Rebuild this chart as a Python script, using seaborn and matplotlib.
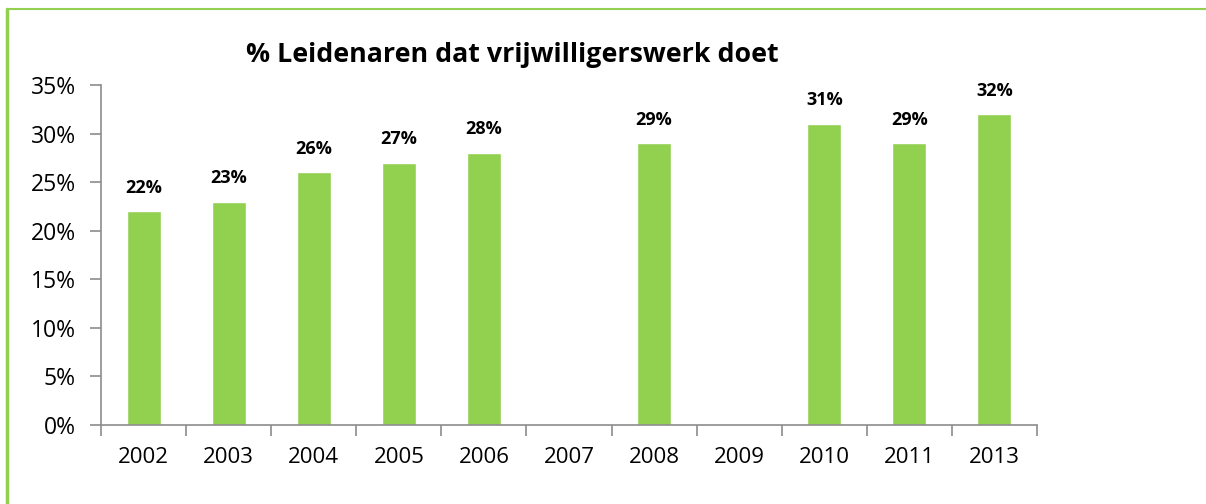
import matplotlib.pyplot as plt
import seaborn as sns
import numpy as np
import pandas as pd

# data
years = ['2002', '2003', '2004', '2005', '2006', '2007', '2008', '2009', '2010', '2011', '2013']
pct = [22, 23, 26, 27, 28, np.nan, 29, np.nan, 31, 29, 32]

green = '#92D050'
grey = '#8c8c8c'

sns.set_style('white')
plt.rcParams['font.family'] = ['Open Sans', 'DejaVu Sans']
plt.rcParams['text.color'] = 'black'
plt.rcParams['xtick.color'] = grey
plt.rcParams['ytick.color'] = grey
plt.rcParams['xtick.labelcolor'] = 'black'
plt.rcParams['ytick.labelcolor'] = 'black'

df = pd.DataFrame({'jaar': years, 'pct': pct})

fig = plt.figure(figsize=(12.06, 5.04), dpi=100)
ax = fig.add_axes([101 / 1206, 1 - 425 / 504, 936 / 1206, 340 / 504])

sns.barplot(data=df, x='jaar', y='pct', color=green, saturation=1, width=0.4, ax=ax)

# data labels
for i, v in enumerate(pct):
    if not np.isnan(v):
        ax.text(i, v + 1.5, f'{v:.0f}%', ha='center', va='bottom',
                fontsize=13, fontweight='bold', color='black')

ax.set_ylim(0, 35)
ax.set_xlim(-0.5, len(years) - 0.5)
ax.set_yticks(range(0, 36, 5))
ax.set_yticklabels([f'{t}%' for t in range(0, 36, 5)])
ax.set_xlabel('')
ax.set_ylabel('')

# category boundary ticks on x
ax.set_xticks(np.arange(-0.5, len(years), 1), minor=False)
ax.set_xticklabels([])
ax.set_xticks(range(len(years)), minor=True)
ax.set_xticklabels(years, minor=True)
ax.tick_params(axis='x', which='major', bottom=True, length=8, width=1.2, direction='out')
ax.tick_params(axis='x', which='minor', bottom=False, length=0, pad=16, labelsize=16)
ax.tick_params(axis='y', left=True, length=8, width=1.2, direction='out', labelsize=16.5, pad=10)

for s in ['top', 'right']:
    ax.spines[s].set_visible(False)
for s in ['left', 'bottom']:
    ax.spines[s].set_color(grey)
    ax.spines[s].set_linewidth(1.2)

fig.text(512 / 1206, 1 - 55 / 504, '% Leidenaren dat vrijwilligerswerk doet',
         ha='center', va='center', fontsize=19.3, fontweight='bold', color='black')

# green frame (left and top)
fig.add_artist(plt.Line2D([7 / 1206, 7 / 1206], [0, 1 - 9 / 504], color=green, lw=2.5,
                          transform=fig.transFigure))
fig.add_artist(plt.Line2D([7 / 1206, 1], [1 - 9 / 504, 1 - 9 / 504], color=green, lw=1.5,
                          transform=fig.transFigure))

fig.savefig('out.png', dpi=100)
